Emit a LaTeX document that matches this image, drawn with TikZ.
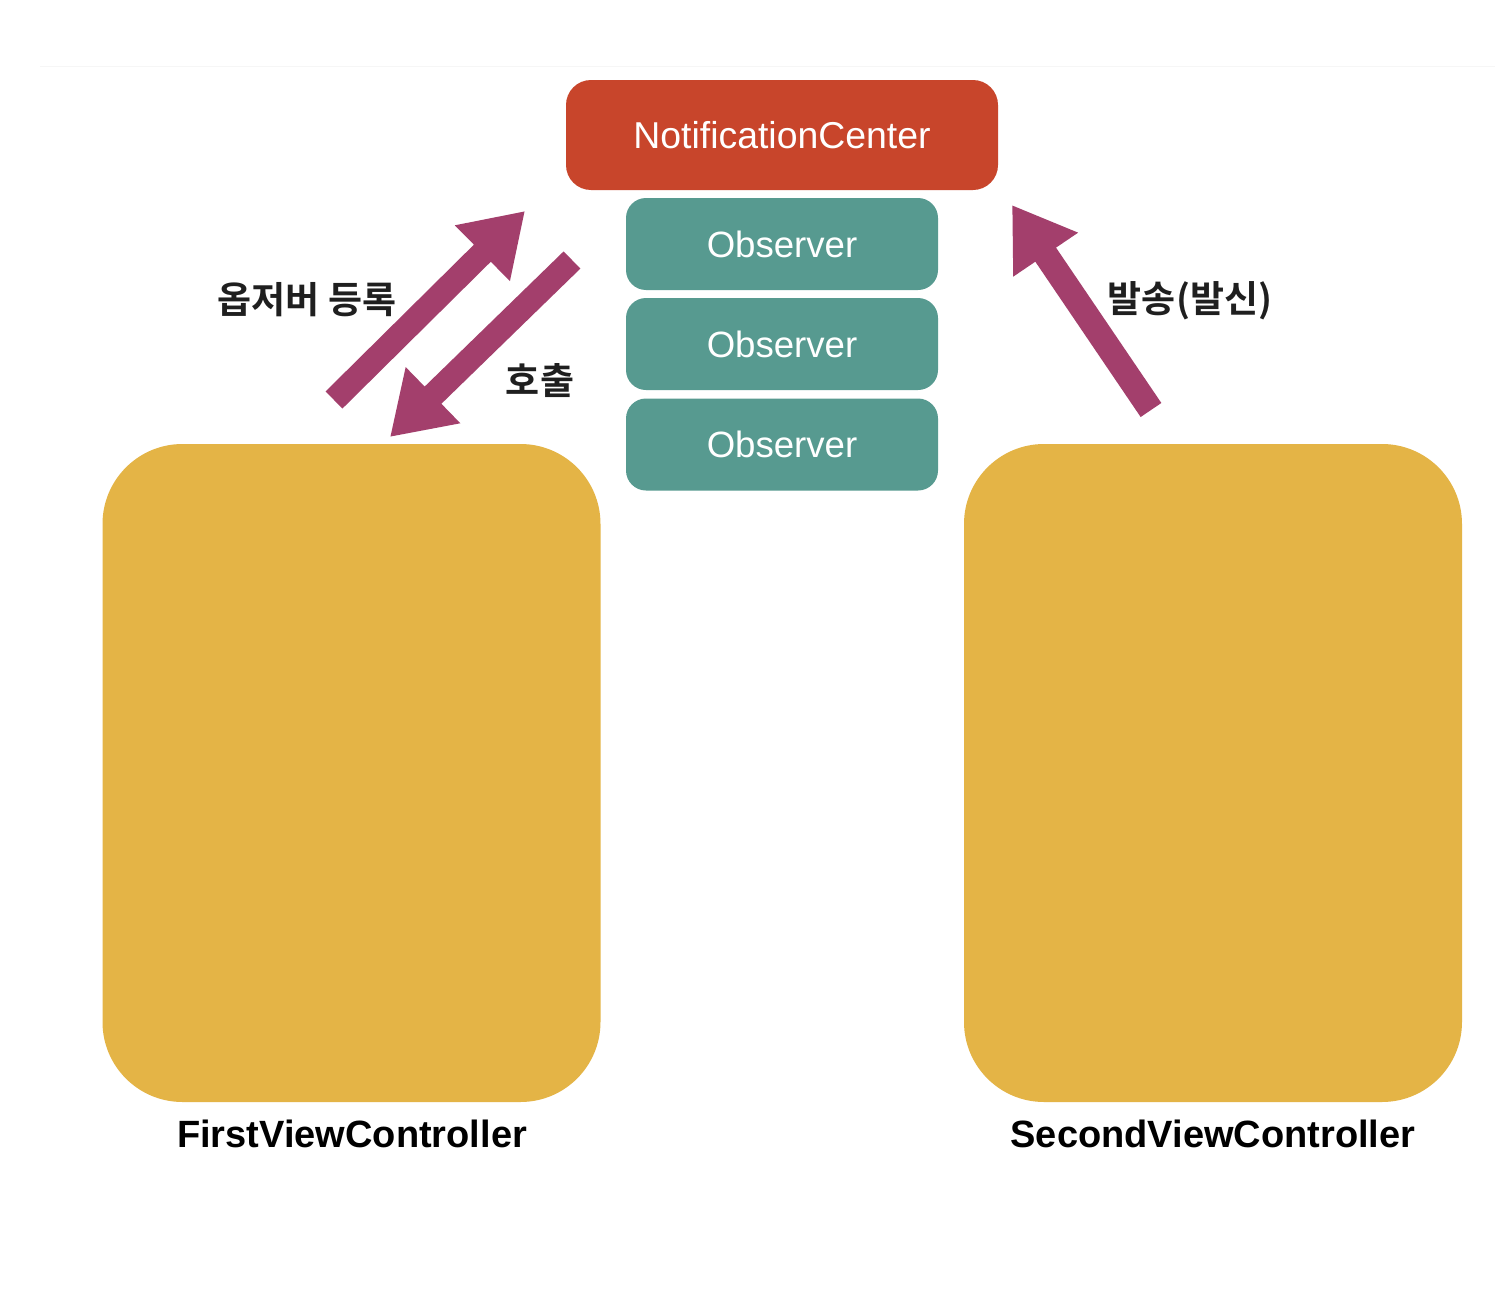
\documentclass[tikz,border=0pt]{standalone}
\usepackage{fontspec}
\setmainfont{Liberation Sans}
\newfontfamily\kofont{Noto Sans CJK KR}[BoldFont={Noto Sans CJK KR Bold}]
\usetikzlibrary{arrows.meta}
\definecolor{ncred}{HTML}{C8452B}
\definecolor{obsteal}{HTML}{579A90}
\definecolor{vcyellow}{HTML}{E4B446}
\definecolor{arrmag}{HTML}{A33F6C}
\tikzset{
  ncbox/.style={rectangle, fill=ncred, rounded corners=12.5pt, minimum width=216pt, minimum height=55pt, text=white, font=\fontsize{18.7}{22}\selectfont, inner sep=0pt},
  obsbox/.style={rectangle, fill=obsteal, rounded corners=10pt, minimum width=156pt, minimum height=46pt, text=white, font=\fontsize{18.3}{22}\selectfont, inner sep=0pt},
  vcbox/.style={rectangle, fill=vcyellow, rounded corners=40pt, minimum width=249pt, minimum height=329pt, inner sep=0pt},
  vclabel/.style={font=\bfseries\fontsize{19}{23}\selectfont, text=black, inner sep=0pt},
  kolabel/.style={font=\kofont\bfseries\fontsize{18.5}{22}\selectfont, text=black!88, inner sep=0pt},
  bigarrow/.style={draw=arrmag, line width=12pt, -{Triangle[length=30pt, width=37pt]}, arrmag}
}
\begin{document}
\begin{tikzpicture}[x=0.5pt, y=-0.5pt]
\useasboundingbox (0,0) rectangle (1512,1290);
\fill[white] (0,0) rectangle (1512,1290);
\draw[gray!7, line width=0.5pt] (40,66) -- (1495,66);
\node[ncbox] (nc) at (782,135) {NotificationCenter};
\node[obsbox] (o1) at (782,244) {Observer};
\node[obsbox] (o2) at (782,344) {Observer};
\node[obsbox] (o3) at (782,444.5) {Observer};
\node[vcbox] (first) at (351.5,773) {};
\node[vcbox] (second) at (1213,773) {};
\node[vclabel] (firstlbl) at (352,1134) {FirstViewController};
\node[vclabel] (secondlbl) at (1213,1134) {SecondViewController};
\coordinate (a1s) at (334,400);
\coordinate (a1e) at (525,211);
\coordinate (a2s) at (572,260);
\coordinate (a2e) at (390,437);
\coordinate (a3s) at (1151,410);
\coordinate (a3e) at (1012,205);
\draw[bigarrow] (a1s) -- (a1e);
\draw[bigarrow] (a2s) -- (a2e);
\draw[bigarrow, line width=12.5pt] (a3s) -- (a3e);
\node[kolabel] (lreg) at (307,300) {옵저버 등록};
\node[kolabel] (lcall) at (540,381) {호출};
\node[kolabel] (lsend) at (1190,301) {발송(발신)};
\end{tikzpicture}
\end{document}
